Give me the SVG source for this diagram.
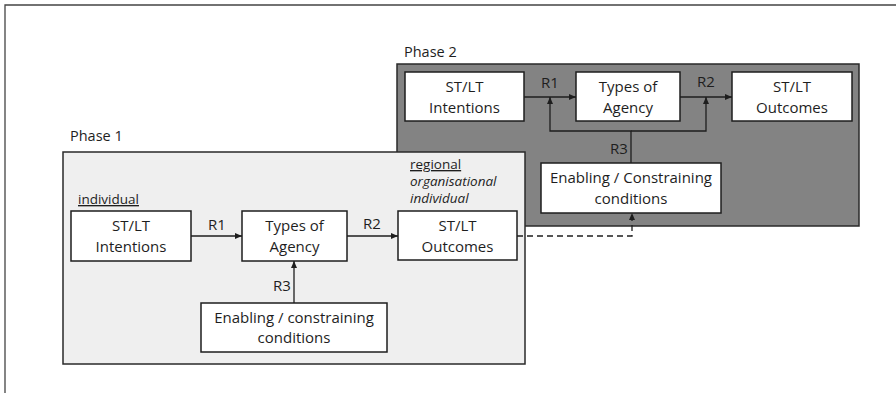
<svg xmlns="http://www.w3.org/2000/svg" width="896" height="393" viewBox="0 0 896 393">
<style>
text{font-family:"Open Sans","Liberation Sans",sans-serif;fill:#1e1e1e}
.t{font-size:15px;text-anchor:middle}
.lbl{font-size:15px}
.ph{font-size:14.5px}
.sc{font-size:13.5px}
.it{font-style:italic}
.u{text-decoration:underline}
.box{fill:#fff;stroke:#1e1e1e;stroke-width:1.5}
.ln{fill:none;stroke:#1e1e1e;stroke-width:1.3}
.dash{stroke-dasharray:6 4}
</style>
<defs>
<marker id="ah" markerUnits="userSpaceOnUse" markerWidth="7" markerHeight="6" refX="7" refY="3" orient="auto">
<path d="M0,0 L7,3 L0,6 z" fill="#1e1e1e"/>
</marker>
</defs>
<rect width="896" height="393" fill="#fff"/>
<g id="frame">
<path d="M5,393 V5 H896" fill="none" stroke="#444" stroke-width="1.3"/>
</g>
<g id="phase2">
<text class="ph" x="404" y="57">Phase 2</text>
<rect x="397" y="64" width="462" height="162" fill="#838383" stroke="#2a2a2a" stroke-width="1.5"/>
</g>
<g id="p2-intentions">
<rect class="box" x="405" y="72" width="119" height="49"/>
<text class="t" x="464.5" y="92">ST/LT</text>
<text class="t" x="464.5" y="113">Intentions</text>
</g>
<g id="p2-agency">
<rect class="box" x="576" y="72" width="104" height="49"/>
<text class="t" x="628" y="92">Types of</text>
<text class="t" x="628" y="113">Agency</text>
</g>
<g id="p2-outcomes">
<rect class="box" x="732" y="72" width="120" height="49"/>
<text class="t" x="792" y="92">ST/LT</text>
<text class="t" x="792" y="113">Outcomes</text>
</g>
<g id="p2-conditions">
<rect class="box" x="541" y="163" width="180" height="50"/>
<text class="t" x="631" y="183">Enabling / Constraining</text>
<text class="t" x="631" y="204">conditions</text>
</g>
<g id="p2-connectors">
<path class="ln" d="M524,97 H576" marker-end="url(#ah)"/>
<path class="ln" d="M680,97 H732" marker-end="url(#ah)"/>
<path class="ln" d="M631,163 V131 H550 V97" marker-end="url(#ah)"/>
<path class="ln" d="M631,131 H706 V97" marker-end="url(#ah)"/>
<text class="lbl" x="541" y="88">R1</text>
<text class="lbl" x="697" y="87">R2</text>
<text class="lbl" x="610" y="154">R3</text>
</g>
<g id="phase1">
<text class="ph" x="70" y="141">Phase 1</text>
<rect x="63" y="152" width="462" height="212" fill="#efefef" stroke="#2a2a2a" stroke-width="1.5"/>
<text class="sc u" x="78" y="204">individual</text>
<text class="sc u" x="410" y="169">regional</text>
<text class="sc it" x="410" y="186">organisational</text>
<text class="sc it" x="410" y="203">individual</text>
</g>
<g id="p1-intentions">
<rect class="box" x="71" y="211" width="120" height="50"/>
<text class="t" x="131" y="231">ST/LT</text>
<text class="t" x="131" y="252">Intentions</text>
</g>
<g id="p1-agency">
<rect class="box" x="242" y="211" width="105" height="50"/>
<text class="t" x="294.5" y="231">Types of</text>
<text class="t" x="294.5" y="252">Agency</text>
</g>
<g id="p1-outcomes">
<rect class="box" x="398" y="211" width="119" height="49"/>
<text class="t" x="457.5" y="231">ST/LT</text>
<text class="t" x="457.5" y="252">Outcomes</text>
</g>
<g id="p1-conditions">
<rect class="box" x="201" y="303" width="186" height="49"/>
<text class="t" x="294" y="323">Enabling / constraining</text>
<text class="t" x="294" y="343">conditions</text>
</g>
<g id="p1-connectors">
<path class="ln" d="M191,236 H242" marker-end="url(#ah)"/>
<path class="ln" d="M347,236 H398" marker-end="url(#ah)"/>
<path class="ln" d="M294,303 V261" marker-end="url(#ah)"/>
<path class="ln dash" d="M517,236 H632 V213" marker-end="url(#ah)"/>
<text class="lbl" x="208" y="230">R1</text>
<text class="lbl" x="363" y="229">R2</text>
<text class="lbl" x="273" y="291">R3</text>
</g>
</svg>
